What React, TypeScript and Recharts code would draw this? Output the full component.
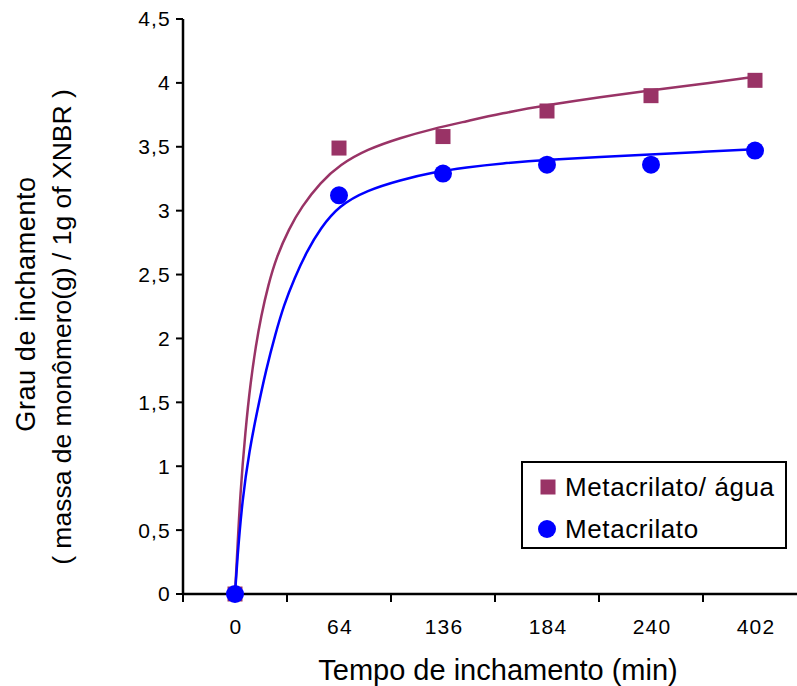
import React from 'react';
import {
  ComposedChart,
  Line,
  Scatter,
  XAxis,
  YAxis,
  Legend,
} from 'recharts';

// swelling time (min), one evenly spaced slot each
const timeLabels = ['0', '64', '136', '184', '240', '402'];
const slots = [0, 1, 2, 3, 4, 5];

// measured swelling degree
const aguaValues = [0, 3.49, 3.58, 3.78, 3.9, 4.02];
const metaValues = [0, 3.12, 3.29, 3.36, 3.36, 3.47];

// trend curves, sampled along the slot axis
const aguaCurveX = [0, 0.02, 0.05, 0.1, 0.15, 0.2, 0.25, 0.32, 0.4, 0.52, 0.64, 0.82, 1.01, 1.27, 1.59, 1.9, 2.23, 2.55, 3.03, 3.51, 3.99, 4.47, 5.02];
const aguaCurveY = [0, 0.3, 0.78, 1.28, 1.66, 1.94, 2.17, 2.42, 2.64, 2.86, 3.03, 3.22, 3.36, 3.48, 3.57, 3.64, 3.7, 3.76, 3.83, 3.89, 3.94, 3.99, 4.05];
const metaCurveX = [0, 0.02, 0.07, 0.14, 0.21, 0.3, 0.39, 0.47, 0.57, 0.69, 0.82, 1.0, 1.27, 1.59, 1.9, 2.23, 2.55, 3.03, 3.51, 3.99, 4.47, 4.98];
const metaCurveY = [0, 0.25, 0.74, 1.13, 1.42, 1.76, 2.04, 2.26, 2.47, 2.68, 2.86, 3.04, 3.16, 3.24, 3.3, 3.34, 3.37, 3.4, 3.42, 3.44, 3.46, 3.48];

const yTicks = [0, 0.5, 1, 1.5, 2, 2.5, 3, 3.5, 4, 4.5];
const xTicks = [-0.5, 0, 0.5, 1, 1.5, 2, 2.5, 3, 3.5, 4, 4.5, 5, 5.5];
const legendOrder = ['Metacrilato/ água', 'Metacrilato'];

const MAROON = '#993366';
const BLUE = '#0000FF';
const FONT = '"Liberation Sans", Arial, sans-serif';

const aguaPoints = slots.map((x, i) => ({ x, y: aguaValues[i] }));
const metaPoints = slots.map((x, i) => ({ x, y: metaValues[i] }));
const aguaCurve = aguaCurveX.map((x, i) => ({ x, y: aguaCurveY[i] }));
const metaCurve = metaCurveX.map((x, i) => ({ x, y: metaCurveY[i] }));

const SquareDot = (props: any) => (
  <rect x={props.cx - 7.5} y={props.cy - 7.5} width={15} height={15} fill={MAROON} />
);
const RoundDot = (props: any) => (
  <circle cx={props.cx} cy={props.cy} r={9} fill={BLUE} />
);

// labels sit on whole slots, tick marks on the half slots between them
const XTick = (props: any) => {
  const { x, y, payload } = props;
  const v = payload.value;
  if (Number.isInteger(v)) {
    return (
      <text x={x + 1} y={y + 40} textAnchor="middle" fontSize={21} letterSpacing={1.2} fontFamily={FONT} fill="#000">
        {timeLabels[v]}
      </text>
    );
  }
  return <line x1={x} y1={y} x2={x} y2={y + 8} stroke="#000" strokeWidth={2} />;
};

const YTitle = () => (
  <text transform="rotate(-90)" textAnchor="middle" fontFamily={FONT} fill="#000">
    <tspan x={-304} y={35} fontSize={27} letterSpacing={0.6}>Grau de inchamento</tspan>
    <tspan x={-327} y={71} fontSize={26.5}>( massa de monômero(g) / 1g of XNBR )</tspan>
  </text>
);

const XTitle = () => (
  <text x={498} y={680} textAnchor="middle" fontSize={29} fontFamily={FONT} fill="#000">
    Tempo de inchamento (min)
  </text>
);

const LegendBox = (props: any) => {
  const items = legendOrder
    .map((name) => (props.payload || []).find((p: any) => p.value === name))
    .filter(Boolean);
  return (
    <div
      style={{
        boxSizing: 'border-box',
        width: 266,
        height: 88,
        border: '2px solid #000',
        background: '#fff',
        padding: '3px 0 0 14px',
        fontFamily: FONT,
        fontSize: 26,
        letterSpacing: 0.6,
        lineHeight: '42px',
        color: '#000',
      }}
    >
      {items.map((p: any) => (
        <div key={p.value} style={{ display: 'flex', alignItems: 'center' }}>
          <svg width={28} height={20}>
            {p.value === 'Metacrilato' ? (
              <circle cx={10} cy={10} r={9} fill={BLUE} />
            ) : (
              <rect x={3.5} y={2.5} width={15} height={15} fill={MAROON} />
            )}
          </svg>
          <span>{p.value}</span>
        </div>
      ))}
    </div>
  );
};

export default function App() {
  return (
    <div
      style={{
        position: 'absolute',
        left: 0,
        top: 0,
        width: 797,
        height: 686,
        overflow: 'hidden',
        background: '#fff',
      }}
    >
      <ComposedChart
        width={830}
        height={686}
        margin={{ top: 19, right: 23, bottom: 0, left: 0 }}
      >
        <XAxis
          type="number"
          dataKey="x"
          domain={[-0.5, 5.5]}
          ticks={xTicks}
          interval={0}
          tick={<XTick />}
          tickLine={false}
          tickSize={0}
          tickMargin={0}
          height={92}
          axisLine={{ stroke: '#000', strokeWidth: 2.5 }}
          allowDataOverflow
          label={<XTitle />}
        />
        <YAxis
          type="number"
          domain={[0, 4.5]}
          ticks={yTicks}
          interval={0}
          width={183}
          tickSize={7}
          tickMargin={5}
          tickFormatter={(v: number) => String(v).replace('.', ',')}
          tick={{ fontSize: 21, letterSpacing: 1.2, fontFamily: FONT, fill: '#000' }}
          tickLine={{ stroke: '#000', strokeWidth: 2 }}
          axisLine={{ stroke: '#000', strokeWidth: 2.5 }}
          label={<YTitle />}
        />
        <Line
          data={aguaCurve}
          dataKey="y"
          type="basis"
          stroke={MAROON}
          strokeWidth={2.5}
          dot={false}
          activeDot={false}
          legendType="none"
          isAnimationActive={false}
        />
        <Line
          data={metaCurve}
          dataKey="y"
          type="basis"
          stroke={BLUE}
          strokeWidth={2.5}
          dot={false}
          activeDot={false}
          legendType="none"
          isAnimationActive={false}
        />
        <Scatter
          name="Metacrilato/ água"
          data={aguaPoints}
          dataKey="y"
          fill={MAROON}
          shape={SquareDot}
          isAnimationActive={false}
        />
        <Scatter
          name="Metacrilato"
          data={metaPoints}
          dataKey="y"
          fill={BLUE}
          shape={RoundDot}
          isAnimationActive={false}
        />
        <Legend
          layout="horizontal"
          verticalAlign="middle"
          align="center"
          content={<LegendBox />}
          wrapperStyle={{ left: 521, top: 461, width: 266 }}
        />
      </ComposedChart>
    </div>
  );
}
